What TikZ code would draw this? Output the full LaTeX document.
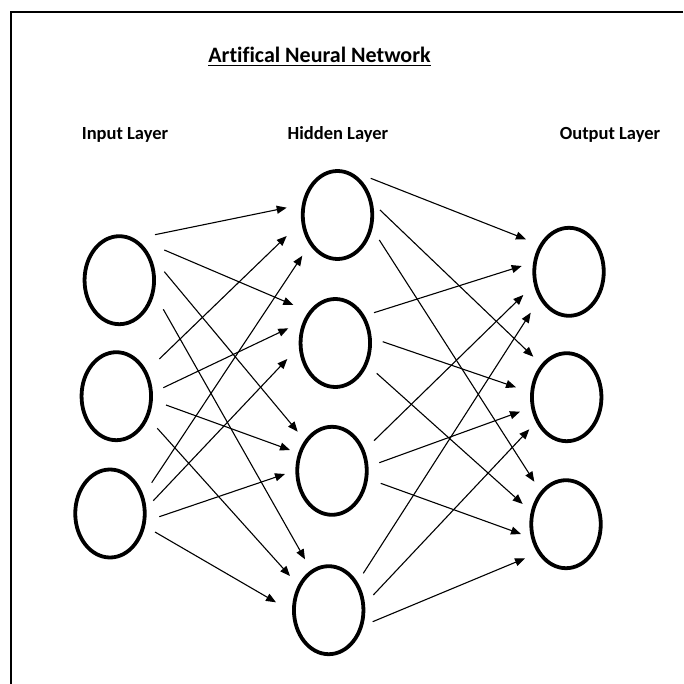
\documentclass[tikz,border=0pt]{standalone}
\usepackage{fontspec}
\setmainfont{Carlito}[Ligatures=CommonOff]
\usetikzlibrary{shapes.geometric,arrows.meta,calc}

\tikzset{
  neuron/.style={draw, ellipse, line width=3.8pt, minimum width=69.5pt,
                 minimum height=88pt, inner sep=0pt},
  arr/.style={line width=1.1pt, -{Triangle[length=10pt,width=8pt]}},
  layerlabel/.style={anchor=base, font=\bfseries\fontsize{18.5}{20}\selectfont, inner sep=0pt},
  frame/.style={line width=2pt}
}

\begin{document}
\begin{tikzpicture}[x=1pt, y=-1pt]
  \useasboundingbox (0,0) rectangle (683,684);

  % outer frame (top and left edges)
  \coordinate (fTR) at (683,12);
  \coordinate (fTL) at (11,12);
  \coordinate (fBL) at (11,684);
  \draw[frame] (fTR) -- (fTL) -- (fBL);

  % headings
  \node[anchor=base, inner sep=0pt, font=\bfseries\fontsize{22}{24}\selectfont]
    (title) at (319.5,62.7) {Artifical Neural Network};
  \draw[line width=1.5pt] ($(title.base west)+(0,2.6)$) -- ($(title.base east)+(0,2.6)$);
  \node[layerlabel] (linput)  at (125,139.3) {Input Layer};
  \node[layerlabel] (lhidden) at (338,139.3) {Hidden Layer};
  \node[layerlabel] (loutput) at (610,139.3) {Output Layer};

  % input layer
  \node[neuron] (I1) at (119.3,280.2) {};
  \node[neuron] (I2) at (116.3,396.2) {};
  \node[neuron] (I3) at (110,513.5) {};

  % hidden layer
  \node[neuron] (H1) at (337.5,215) {};
  \node[neuron] (H2) at (335.3,343) {};
  \node[neuron] (H3) at (332,470.8) {};
  \node[neuron] (H4) at (328.7,610.2) {};

  % output layer
  \node[neuron] (O1) at (569,271.8) {};
  \node[neuron] (O2) at (566.7,397.2) {};
  \node[neuron] (O3) at (566,524.2) {};

  % input -> hidden
  \draw[arr] ($(I1)+(35.7,-45.5)$) -- ($(H1)+(-50.8,-7.3)$);
  \draw[arr] ($(I1)+(45,-30.2)$)   -- ($(H2)+(-42,-38)$);
  \draw[arr] ($(I1)+(45,-8.5)$)    -- ($(H3)+(-34.3,-39.1)$);
  \draw[arr] ($(I1)+(44,29.1)$)    -- ($(H4)+(-23.7,-50.9)$);

  \draw[arr] ($(I2)+(43,-37.2)$)   -- ($(H1)+(-50.8,21)$);
  \draw[arr] ($(I2)+(47,-8.5)$)    -- ($(H2)+(-47,-14.7)$);
  \draw[arr] ($(I2)+(49.7,8.8)$)   -- ($(H3)+(-42,-20.8)$);
  \draw[arr] ($(I2)+(41,32.1)$)    -- ($(H4)+(-38.7,-34.2)$);

  \draw[arr] ($(I3)+(41.7,-30.8)$) -- ($(H1)+(-35.2,40.7)$);
  \draw[arr] ($(I3)+(43.3,-12.8)$) -- ($(H2)+(-48,16)$);
  \draw[arr] ($(I3)+(49.3,3.2)$)   -- ($(H3)+(-47,3.2)$);
  \draw[arr] ($(I3)+(45,18.5)$)    -- ($(H4)+(-52.7,-7.9)$);

  % hidden -> output
  \draw[arr] ($(H1)+(33.2,-36.7)$) -- ($(O1)+(-43,-32.5)$);
  \draw[arr] ($(H1)+(42.5,-5)$)    -- ($(O2)+(-33.4,-40.5)$);
  \draw[arr] ($(H1)+(41.8,25)$)    -- ($(O3)+(-31.7,-42.5)$);

  \draw[arr] ($(H2)+(38.7,-30.3)$) -- ($(O1)+(-47.3,-5.8)$);
  \draw[arr] ($(H2)+(47.4,-1.3)$)  -- ($(O2)+(-50.7,-9.9)$);
  \draw[arr] ($(H2)+(41.4,30.3)$)  -- ($(O3)+(-43.3,-20.2)$);

  \draw[arr] ($(H3)+(42,-30.1)$)   -- ($(O1)+(-45.7,23.2)$);
  \draw[arr] ($(H3)+(47.3,-8.1)$)  -- ($(O2)+(-46.7,14.5)$);
  \draw[arr] ($(H3)+(48.7,12.5)$)  -- ($(O3)+(-45,9.8)$);

  \draw[arr] ($(H4)+(34.6,-36.9)$) -- ($(O1)+(-38.3,40.9)$);
  \draw[arr] ($(H4)+(44.6,-15.2)$) -- ($(O2)+(-37.4,32.1)$);
  \draw[arr] ($(H4)+(44,11.5)$)    -- ($(O3)+(-41,34.1)$);
\end{tikzpicture}
\end{document}
